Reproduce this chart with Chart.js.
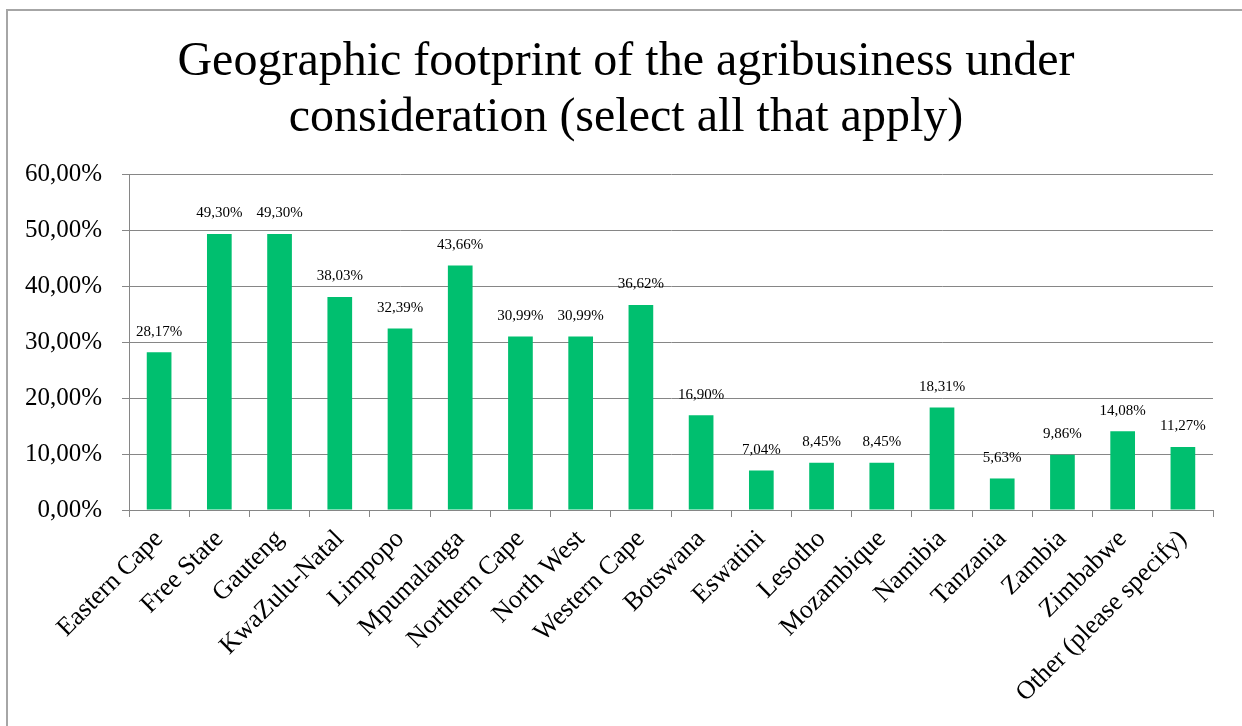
<!DOCTYPE html>
<html lang="en">
<head>
    <meta charset="UTF-8">
    <title>Geographic footprint</title>
    <script src="https://cdn.jsdelivr.net/npm/chart.js"></script>
    <style>
        html, body { margin: 0; padding: 0; background: #fff; overflow: hidden; }
        #wrap { position: relative; width: 1242px; height: 726px; }
        #frame {
            position: absolute; left: 6px; top: 9px; width: 1300px; height: 800px;
            border-left: 2px solid #a6a6a6; border-top: 2px solid #a6a6a6;
            pointer-events: none;
        }
    </style>
</head>
<body>
    <div id="wrap">
        <canvas id="footprintChart" width="1242" height="726"></canvas>
        <div id="frame"></div>
    </div>

    <script>
        const regions = ['Eastern Cape', 'Free State', 'Gauteng', 'KwaZulu-Natal', 'Limpopo', 'Mpumalanga',
            'Northern Cape', 'North West', 'Western Cape', 'Botswana', 'Eswatini', 'Lesotho',
            'Mozambique', 'Namibia', 'Tanzania', 'Zambia', 'Zimbabwe', 'Other (please specify)'];
        const shares = [28.17, 49.30, 49.30, 38.03, 32.39, 43.66, 30.99, 30.99, 36.62, 16.90, 7.04, 8.45,
            8.45, 18.31, 5.63, 9.86, 14.08, 11.27];
        const titleLines = ['Geographic footprint of the agribusiness under', 'consideration (select all that apply)'];

        const serif = "'Liberation Serif', 'Times New Roman', serif";

        function pct(v) {
            return v.toFixed(2).replace('.', ',') + '%';
        }

        // two-line title, centred on the slide rather than the plot
        const slideTitle = {
            id: 'slideTitle',
            afterDraw(chart) {
                const ctx = chart.ctx;
                ctx.save();
                ctx.font = '48px ' + serif;
                ctx.fillStyle = '#000';
                ctx.textAlign = 'center';
                ctx.textBaseline = 'alphabetic';
                ctx.fillText(titleLines[0], 626, 75);
                ctx.fillText(titleLines[1], 626, 131);
                ctx.restore();
            }
        };

        // value labels above each bar
        const valueLabels = {
            id: 'valueLabels',
            afterDatasetsDraw(chart) {
                const ctx = chart.ctx;
                const meta = chart.getDatasetMeta(0);
                ctx.save();
                ctx.font = '15px ' + serif;
                ctx.fillStyle = '#000';
                ctx.textAlign = 'center';
                ctx.textBaseline = 'bottom';
                meta.data.forEach((bar, i) => {
                    ctx.fillText(pct(shares[i]), bar.x, bar.y - 13);
                });
                ctx.restore();
            }
        };

        new Chart(document.getElementById('footprintChart'), {
            type: 'bar',
            data: {
                labels: regions,
                datasets: [{
                    data: shares,
                    backgroundColor: '#00bf6f',
                    barPercentage: 0.41,
                    categoryPercentage: 1.0
                }]
            },
            options: {
                responsive: false,
                animation: false,
                layout: { padding: { left: 0, right: 29, top: 174, bottom: 0 } },
                plugins: {
                    legend: { display: false },
                    tooltip: { enabled: false },
                    title: { display: false }
                },
                scales: {
                    x: {
                        grid: { drawOnChartArea: false, color: '#868686', tickLength: 7, offset: true },
                        border: { color: '#868686' },
                        ticks: {
                            color: '#000',
                            font: { family: serif, size: 26 },
                            minRotation: 45,
                            maxRotation: 45,
                            autoSkip: false,
                            padding: 7
                        },
                        afterFit(scale) { scale.height = 216; }
                    },
                    y: {
                        min: 0,
                        max: 60,
                        ticks: {
                            stepSize: 10,
                            color: '#000',
                            font: { family: serif, size: 25 },
                            padding: 20,
                            callback: v => pct(v)
                        },
                        grid: { color: '#868686', tickLength: 7 },
                        border: { color: '#868686' },
                        afterFit(scale) { scale.width = 129; }
                    }
                }
            },
            plugins: [valueLabels, slideTitle]
        });
    </script>
</body>
</html>
